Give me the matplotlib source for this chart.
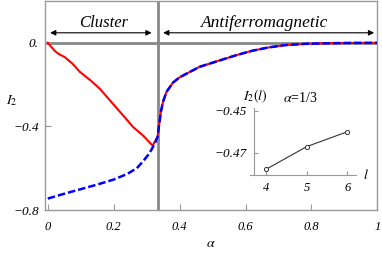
import matplotlib.pyplot as plt
import numpy as np

plt.rcParams['mathtext.fontset'] = 'stix'
plt.rcParams['font.family'] = 'Liberation Serif'

# red solid curve, cluster phase (alpha < 1/3)
alpha_cl = [0.0, 0.01, 0.022, 0.035, 0.052, 0.075, 0.098, 0.13, 0.158, 0.2, 0.23,
            0.259, 0.29, 0.318, 0.333]
i2_cl = [0.0, -0.018, -0.04, -0.055, -0.069, -0.1, -0.14, -0.18, -0.22, -0.296, -0.35,
         -0.403, -0.445, -0.492, -0.45]

# blue dashed curve, antiferromagnetic state
alpha_af = [0.0, 0.05, 0.1, 0.15, 0.2, 0.24, 0.27, 0.29, 0.305, 0.315, 0.325, 0.333,
            0.338, 0.343, 0.35, 0.36, 0.38, 0.40, 0.43, 0.46, 0.49, 0.53, 0.57, 0.62,
            0.67, 0.72, 0.78, 0.85, 0.92, 1.0]
i2_af = [-0.745, -0.722, -0.70, -0.678, -0.654, -0.628, -0.60, -0.565, -0.535, -0.51,
         -0.48, -0.45, -0.39, -0.33, -0.28, -0.235, -0.19, -0.165, -0.14, -0.115, -0.1,
         -0.08, -0.06, -0.038, -0.022, -0.011, -0.005, -0.002, -0.0005, 0.0]

# inset: I2(l) at alpha = 1/3
l_vals = [4, 5, 6]
i2_l = [-0.4779, -0.4671, -0.4600]

xticks = [0, 0.2, 0.4, 0.6, 0.8, 1.0]
xticklabels = ['0', '0.2', '0.4', '0.6', '0.8', '1']
yticks = [0.0, -0.4, -0.8]
yticklabels = ['0.', '\u22120.4', '\u22120.8']

frame = '#999999'

fig = plt.figure(figsize=(3.82, 2.54), dpi=100)
ax = fig.add_axes([0.1165, 0.173, 0.8715, 0.823])

ax.axhline(0, color='#888888', lw=2.0, zorder=1)
ax.axvline(1 / 3, color='#888888', lw=2.0, zorder=1)

# red follows the blue curve after the transition
a_af = np.array(alpha_af)
red_x = list(alpha_cl) + list(a_af[a_af > 1 / 3])
red_y = list(i2_cl) + list(np.array(i2_af)[a_af > 1 / 3])
ax.plot(red_x, red_y, color='#ff0000', lw=1.5, zorder=3)
ax.plot(alpha_af, i2_af, color='#0000ff', lw=1.8, ls=(0, (3, 1.2)), zorder=4)

ax.set_xlim(-0.01, 1.0)
ax.set_ylim(-0.8, 0.2)
ax.set_xticks(xticks)
ax.set_xticklabels(xticklabels, style='italic', fontsize=9)
ax.set_yticks(yticks)
ax.set_yticklabels(yticklabels, style='italic', fontsize=9.5)
ax.tick_params(direction='in', length=4, color=frame)
ax.tick_params(axis='x', pad=8)
ax.tick_params(axis='y', pad=4)
for s in ax.spines.values():
    s.set_color(frame)
    s.set_linewidth(1.0)

ax.set_xlabel(r'$\alpha$', fontsize=10)
ax.xaxis.set_label_coords(0.5, -0.13)
ax.set_ylabel(r'$I_2$', fontsize=10, rotation=0)
ax.yaxis.set_label_coords(-0.1, 0.49)

# phase arrows
ax.annotate('', xy=(0.007, 0.048), xytext=(0.315, 0.048),
            arrowprops=dict(arrowstyle='<|-|>', color='black', lw=0.8,
                            mutation_scale=8, shrinkA=0, shrinkB=0))
ax.annotate('', xy=(0.35, 0.048), xytext=(0.99, 0.048),
            arrowprops=dict(arrowstyle='<|-|>', color='black', lw=0.8,
                            mutation_scale=8, shrinkA=0, shrinkB=0))
ax.text(0.168, 0.095, 'Cluster', style='italic', fontsize=12, ha='center', va='center')
ax.text(0.659, 0.095, 'Antiferromagnetic', style='italic', fontsize=12.5,
        ha='center', va='center')

# inset
ins = fig.add_axes([0.6537, 0.311, 0.277, 0.264])
ins.patch.set_alpha(0)
ins.plot(l_vals, i2_l, color='#333333', lw=0.8, marker='o', ms=3,
         mfc='white', mec='#333333', mew=0.7)
ins.set_xlim(3.6, 6.2)
ins.set_ylim(-0.4806, -0.4487)
ins.spines['top'].set_visible(False)
ins.spines['right'].set_visible(False)
ins.spines['left'].set_position(('data', 3.7))
for s in ('left', 'bottom'):
    ins.spines[s].set_color(frame)
    ins.spines[s].set_linewidth(0.8)
ins.set_xticks(l_vals)
ins.set_xticklabels(['4', '5', '6'], style='italic', fontsize=9)
ins.set_yticks([-0.45, -0.47])
ins.set_yticklabels(['\u22120.45', '\u22120.47'], style='italic', fontsize=9.5)
ins.tick_params(direction='in', length=3, color=frame, pad=5)
ins.text(3.75, -0.4473, r'$I_2(l)$', fontsize=10, ha='center', va='bottom')
ins.text(4.85, -0.4473, r'$\alpha$=1/3', fontsize=10, ha='center', va='bottom')
ins.text(6.45, -0.4806, r'$l$', fontsize=10, ha='center', va='center')

fig.savefig('out.png', dpi=100)
